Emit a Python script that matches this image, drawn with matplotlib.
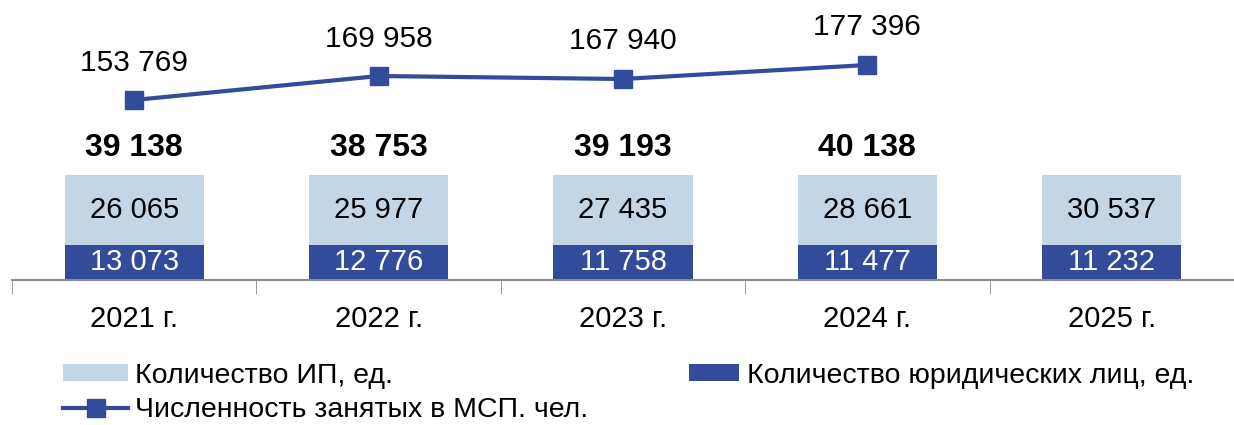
import numpy as np
import matplotlib.pyplot as plt
from matplotlib.patches import Patch
from matplotlib.lines import Line2D

plt.rcParams['font.family'] = ['Liberation Sans', 'DejaVu Sans']

years = ["2021 г.", "2022 г.", "2023 г.", "2024 г.", "2025 г."]
legal = [13073, 12776, 11758, 11477, 11232]
ip = [26065, 25977, 27435, 28661, 30537]
totals = [39138, 38753, 39193, 40138]
employed = [153769, 169958, 167940, 177396]

# bars in the source have a fixed visual height, values only in labels
legal_h = 1.0
ip_h = 2.0

light = "#c2d6e6"
dark = "#324c9b"


def fmt(v):
    return f"{v:,}".replace(",", " ")


fig = plt.figure(figsize=(12.34, 4.25), dpi=100)
ax = fig.add_axes([12 / 1234, 1 - 280 / 425, 1 - 12 / 1234, 280 / 425])
x = np.arange(len(years))

ax.bar(x, [legal_h] * len(x), width=0.57, color=dark)
ax.bar(x, [ip_h] * len(x), width=0.57, bottom=legal_h, color=light)
for i in range(len(x)):
    ax.text(x[i], legal_h / 2, fmt(legal[i]), ha="center", va="center",
            color="white", fontsize=21)
    ax.text(x[i], legal_h + ip_h / 2, fmt(ip[i]), ha="center", va="center",
            color="black", fontsize=21)
for i in range(len(totals)):
    ax.text(x[i], legal_h + ip_h + 0.78, fmt(totals[i]), ha="center", va="center",
            color="black", fontsize=23, fontweight="bold")

ax.set_ylim(0, 8)
ax.set_xlim(-0.5, -0.5 + 1222 / 246.3)
ax.set_xticks(x)
ax.set_xticklabels(years, fontsize=21)
ax.set_xticks(np.arange(-0.5, len(x), 1), minor=True)
ax.tick_params(axis="x", which="major", length=0, pad=18)
ax.tick_params(axis="x", which="minor", length=10, color="#8c8c8c", direction="out")
ax.set_yticks([])
for s in ["top", "right", "left"]:
    ax.spines[s].set_visible(False)
ax.spines["bottom"].set_color("#8c8c8c")
ax.spines["bottom"].set_linewidth(1.5)

ax2 = ax.twinx()
ax2.plot(x[:len(employed)], employed, color=dark, linewidth=3, marker="s",
         markersize=13)
for i in range(len(employed)):
    ax2.annotate(fmt(employed[i]), (x[i], employed[i]), xytext=(0, 27),
                 textcoords="offset points", ha="center", va="center",
                 fontsize=21.5)
ax2.set_ylim(32312, 221246)
ax2.set_yticks([])
for s in ["top", "right", "left", "bottom"]:
    ax2.spines[s].set_visible(False)

h_ip = Patch(facecolor=light, label="Количество ИП, ед.")
h_line = Line2D([], [], color=dark, linewidth=3, marker="s", markersize=13,
                label="Численность занятых в МСП. чел.")
h_legal = Patch(facecolor=dark, label="Количество юридических лиц, ед.")

leg1 = fig.legend(handles=[h_ip, h_line], loc="upper left",
                  bbox_to_anchor=(40 / 1234, 1 - 340 / 425), frameon=False,
                  fontsize=20.5, handlelength=2.3, handleheight=0.55,
                  labelspacing=0.3, handletextpad=0.25, borderpad=0.3)
leg2 = fig.legend(handles=[h_legal], loc="upper left",
                  bbox_to_anchor=(666 / 1234, 1 - 340 / 425), frameon=False,
                  fontsize=20.5, handlelength=1.75, handleheight=0.55,
                  handletextpad=0.3, borderpad=0.3)

fig.savefig("out.png", dpi=100)
